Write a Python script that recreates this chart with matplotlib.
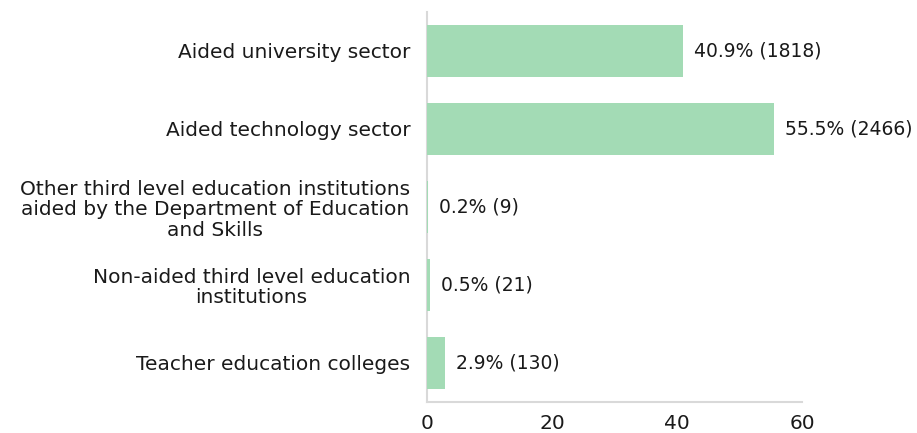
import matplotlib
matplotlib.use("Agg")
import matplotlib.pyplot as plt

categories = [
    "Aided university sector",
    "Aided technology sector",
    "Other third level education institutions\naided by the Department of Education\nand Skills",
    "Non-aided third level education\ninstitutions",
    "Teacher education colleges",
]
percentages = [40.9, 55.5, 0.2, 0.5, 2.9]
counts = [1818, 2466, 9, 21, 130]
xticks = [0, 20, 40, 60]

plt.rcParams['font.family'] = ['DejaVu Sans']

fig = plt.figure(figsize=(9.17, 4.33), dpi=100)
ax = fig.add_axes([0.4656, 0.0716, 0.4090, 0.9007])

y = list(range(len(categories)))
ax.barh(y, percentages, height=0.66, color="#a3dbb5", zorder=3)
for yi, p, c in zip(y, percentages, counts):
    ax.text(p + 1.8, yi, f"{p}% ({c})", va="center", ha="left",
            fontsize=13.5, color="#1a1a1a")

ax.set_ylim(len(categories) - 0.5, -0.5)
ax.set_xlim(0, 60)
ax.set_yticks(y)
ax.set_yticklabels(categories, fontsize=14.5, color="#1a1a1a", linespacing=1.1)
for lbl in ax.get_yticklabels():
    lbl.set_multialignment("center")
ax.set_xticks(xticks)
ax.set_xticklabels([str(t) for t in xticks], fontsize=14.5, color="#1a1a1a")
ax.tick_params(axis="both", length=0)
ax.tick_params(axis="y", pad=12)
ax.tick_params(axis="x", pad=9)
for s in ["top", "right"]:
    ax.spines[s].set_visible(False)
for s in ["left", "bottom"]:
    ax.spines[s].set_color("#d9d9d9")
    ax.spines[s].set_linewidth(1.5)

fig.savefig("out.png", dpi=100)
